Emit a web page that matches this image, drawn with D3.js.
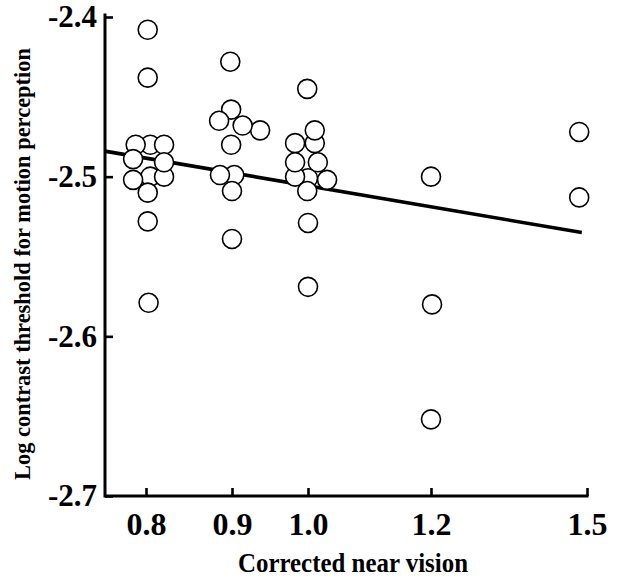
<!DOCTYPE html>
<html><head><meta charset="utf-8">
<script src="https://cdn.jsdelivr.net/npm/d3@7"></script>
<style>html,body{margin:0;padding:0;background:#fff;} svg{display:block;}</style>
</head><body><svg id="chart" width="619" height="580"></svg>
<script>
// ---- data ----
const xTicks = [0.8, 0.9, 1.0, 1.2, 1.5];
const xTickLabels = ["0.8", "0.9", "1.0", "1.2", "1.5"];
const yTicks = [-2.4, -2.5, -2.6, -2.7];
const yTickLabels = ["-2.4", "-2.5", "-2.6", "-2.7"];
// corrected near vision (slightly jittered around the acuity level) for each subject
const pointVision = [
  0.802, 0.802, 0.805, 0.805, 0.788, 0.821, 0.785, 0.821, 0.785, 0.821, 0.802, 0.802, 0.803,
  0.898, 0.899, 0.937, 0.885, 0.914, 0.899, 0.903, 0.886, 0.900, 0.900,
  0.999, 1.011, 1.000, 0.983, 0.983, 1.011, 0.983, 1.016, 1.031, 0.999, 1.000, 1.000,
  1.200, 1.202, 1.200,
  1.485, 1.485
];
// log contrast threshold for motion perception
const pointThreshold = [
  -2.408, -2.438, -2.480, -2.500, -2.480, -2.480, -2.502, -2.500, -2.489, -2.491, -2.510, -2.528, -2.579,
  -2.428, -2.458, -2.471, -2.465, -2.468, -2.480, -2.499, -2.499, -2.509, -2.539,
  -2.445, -2.479, -2.501, -2.500, -2.479, -2.471, -2.491, -2.491, -2.502, -2.509, -2.529, -2.569,
  -2.500, -2.580, -2.652,
  -2.472, -2.513
];
// regression line end points
const fitVision = [0.752, 1.490];
const fitThreshold = [-2.484, -2.535];
const xTitle = "Corrected near vision";
const yTitle = "Log contrast threshold for motion perception";

// ---- layout ----
const svg = d3.select("#chart");
const plotLeft = 105, plotRight = 587, plotTop = 17, plotBottom = 496;
const font = "'Liberation Serif', 'Times New Roman', serif";

const x = d3.scaleLinear()
  .domain(xTicks)
  .range([146, 232, 308, 431, 587]);
const y = d3.scaleLinear()
  .domain([-2.4, -2.7])
  .range([plotTop, plotBottom]);

// axes
const xAxis = d3.axisBottom(x)
  .tickValues(xTicks)
  .tickFormat((d, i) => xTickLabels[i])
  .tickSize(-8).tickSizeOuter(0).tickPadding(16);
const yAxis = d3.axisLeft(y)
  .tickValues(yTicks)
  .tickFormat((d, i) => yTickLabels[i])
  .tickSize(-8).tickSizeOuter(0).tickPadding(8);

const gx = svg.append("g").attr("transform", `translate(0,${plotBottom})`).call(xAxis);
const gy = svg.append("g").attr("transform", `translate(${plotLeft},0)`).call(yAxis);
[gx, gy].forEach(g => {
  g.select(".domain").remove();
  g.selectAll(".tick line").attr("stroke", "#000").attr("stroke-width", 2.6);
  g.selectAll(".tick text")
    .attr("fill", "#000")
    .style("font-family", font)
    .style("font-weight", "bold");
});
gx.selectAll(".tick text").style("font-size", "32px");
gy.selectAll(".tick text").style("font-size", "31px");

svg.append("path")
  .attr("d", `M${plotLeft},${y(-2.4) - 2}V${plotBottom}H${x(1.5)}`)
  .attr("fill", "none")
  .attr("stroke", "#000")
  .attr("stroke-width", 3)
  .attr("stroke-linecap", "square");

// regression line
const fitData = fitVision.map((v, i) => [v, fitThreshold[i]]);
svg.append("path")
  .datum(fitData)
  .attr("d", d3.line().x(d => x(d[0])).y(d => y(d[1])))
  .attr("fill", "none")
  .attr("stroke", "#000")
  .attr("stroke-width", 3.6);

// points
const pts = pointVision.map((v, i) => ({ v, t: pointThreshold[i] }));
svg.append("g").selectAll("circle")
  .data(pts)
  .join("circle")
  .attr("cx", d => x(d.v))
  .attr("cy", d => y(d.t))
  .attr("r", 9.5)
  .attr("fill", "#fff")
  .attr("stroke", "#000")
  .attr("stroke-width", 1.6);

// titles
svg.append("text")
  .attr("x", 353).attr("y", 572)
  .attr("text-anchor", "middle")
  .attr("textLength", 230).attr("lengthAdjust", "spacingAndGlyphs")
  .style("font-family", font).style("font-weight", "bold").style("font-size", "28px")
  .text(xTitle);

svg.append("text")
  .attr("transform", "translate(30,264) rotate(-90)")
  .attr("text-anchor", "middle")
  .attr("textLength", 432).attr("lengthAdjust", "spacingAndGlyphs")
  .style("font-family", font).style("font-weight", "bold").style("font-size", "23px")
  .text(yTitle);
</script>
</body></html>
